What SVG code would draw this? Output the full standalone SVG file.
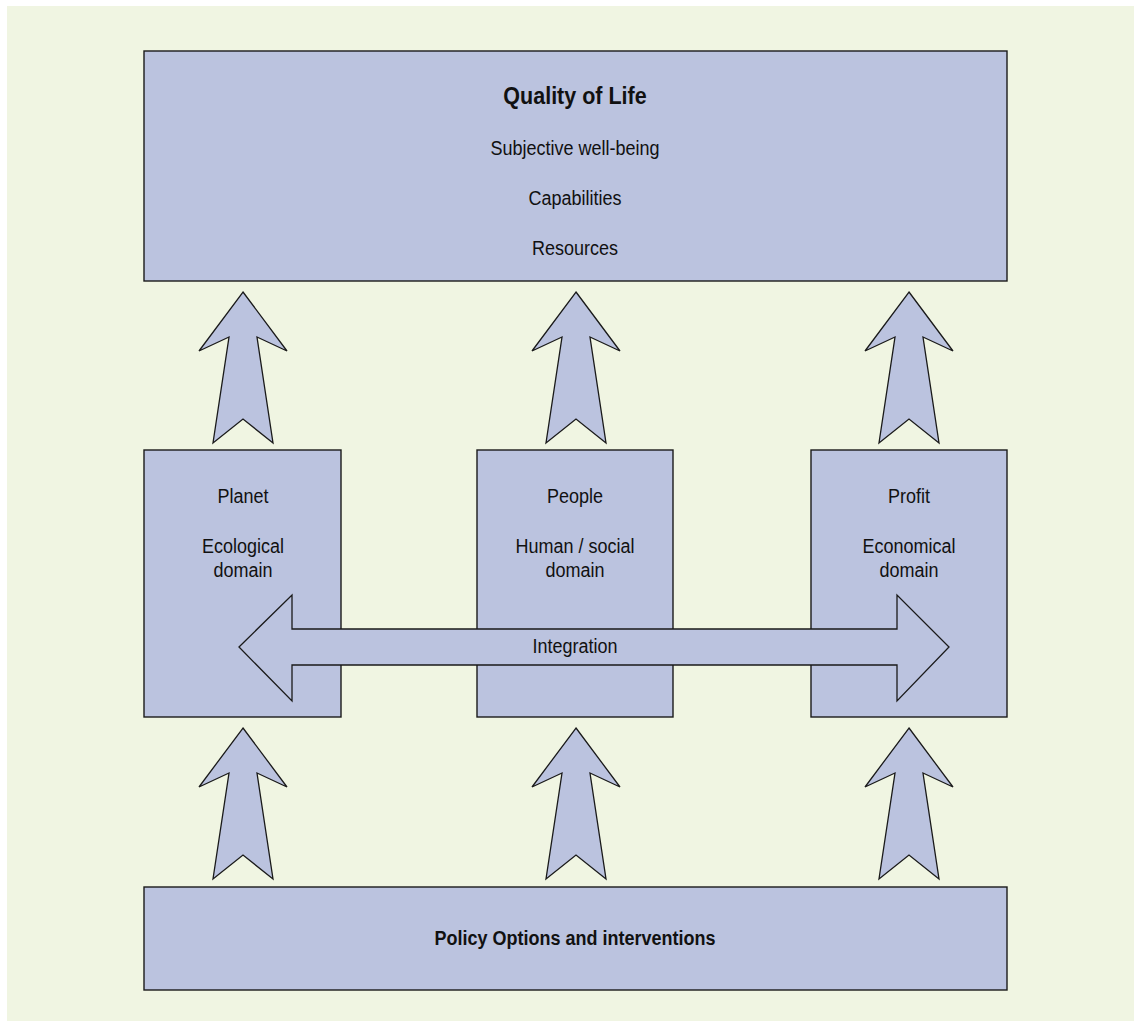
<svg xmlns="http://www.w3.org/2000/svg" width="1134" height="1021" viewBox="0 0 1134 1021">
  <style>
    .box { fill: #BBC3DF; stroke: #1a1a1a; stroke-width: 1.4; }
    .arrow { fill: #BBC3DF; stroke: #1a1a1a; stroke-width: 1.3; stroke-linejoin: miter; }
    text { font-family: "Liberation Sans", Arial, sans-serif; font-size: 18px; fill: #111; text-anchor: middle; }
    .bold { font-weight: bold; }
    .title { font-size: 21.5px; }
  </style>
  <defs>
    <!-- upward block arrow with notched tail; tip at origin -->
    <polygon id="up-arrow" class="arrow" points="0,0 44,59 14,45 30,151 0,127 -30,151 -14,45 -44,59"/>
  </defs>

  <rect x="7" y="6" width="1127" height="1015" fill="#F0F5E2"/>

  <!-- labels are set on their baseline and drawn slightly tall (scale 1 x 1.1) -->
  <g id="quality-of-life">
    <rect class="box" x="144" y="51" width="863" height="230"/>
    <text class="bold title" transform="translate(575,104) scale(1,1.1)">Quality of Life</text>
    <text transform="translate(575,155) scale(1,1.1)">Subjective well-being</text>
    <text transform="translate(575,205) scale(1,1.1)">Capabilities</text>
    <text transform="translate(575,255) scale(1,1.1)">Resources</text>
  </g>

  <g id="planet">
    <rect class="box" x="144" y="450" width="197" height="267"/>
    <text transform="translate(243,503) scale(1,1.1)">Planet</text>
    <text transform="translate(243,553) scale(1,1.1)">Ecological</text>
    <text transform="translate(243,577) scale(1,1.1)">domain</text>
  </g>

  <g id="people">
    <rect class="box" x="477" y="450" width="196" height="267"/>
    <text transform="translate(575,503) scale(1,1.1)">People</text>
    <text transform="translate(575,553) scale(1,1.1)">Human / social</text>
    <text transform="translate(575,577) scale(1,1.1)">domain</text>
  </g>

  <g id="profit">
    <rect class="box" x="811" y="450" width="196" height="267"/>
    <text transform="translate(909,503) scale(1,1.1)">Profit</text>
    <text transform="translate(909,553) scale(1,1.1)">Economical</text>
    <text transform="translate(909,577) scale(1,1.1)">domain</text>
  </g>

  <g id="policy-options">
    <rect class="box" x="144" y="887" width="863" height="103"/>
    <text class="bold" transform="translate(575,945) scale(1,1.1)">Policy Options and interventions</text>
  </g>

  <g id="connectors">
    <!-- domains feed quality of life -->
    <use href="#up-arrow" x="243" y="292"/>
    <use href="#up-arrow" x="576" y="292"/>
    <use href="#up-arrow" x="909" y="292"/>
    <!-- policy options act on the domains -->
    <use href="#up-arrow" x="243" y="728"/>
    <use href="#up-arrow" x="576" y="728"/>
    <use href="#up-arrow" x="909" y="728"/>
    <!-- integration across domains -->
    <g id="integration">
      <polygon class="arrow" points="239,647 292,595 292,629 897,629 897,595 949,647 897,701 897,665 292,665 292,701"/>
      <text transform="translate(575,653) scale(1,1.1)">Integration</text>
    </g>
  </g>
</svg>
